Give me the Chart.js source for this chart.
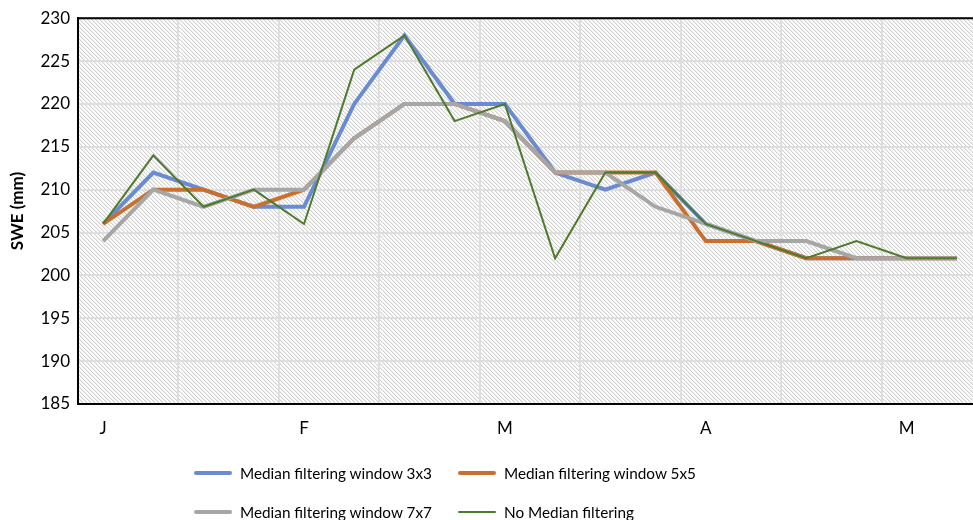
<!DOCTYPE html>
<html>
<head>
<meta charset="utf-8">
<script src="https://cdn.jsdelivr.net/npm/chart.js@4/dist/chart.umd.min.js"></script>
<style>
  html, body { margin: 0; padding: 0; background: #fff; overflow: hidden; }
  #wrap { position: relative; width: 990px; height: 520px; }
  #legend { position: absolute; left: 0; top: 0; width: 973px; height: 520px; pointer-events: none;
            font-family: Lato, "Open Sans", sans-serif; font-size: 15.3px; color: #000; }
  .item { position: absolute; display: flex; align-items: center; white-space: nowrap; }
  .swatch { display: inline-block; width: 38px; margin-right: 8px; }
</style>
</head>
<body>
<div id="wrap">
  <canvas id="c" width="990" height="520"></canvas>
  <div id="legend"></div>
</div>
<script>
// ---- data ----
const categories = ['J','','','','F','','','','M','','','','A','','','','M',''];
const seriesNames = ['Median filtering window 3x3','Median filtering window 5x5','Median filtering window 7x7','No Median filtering'];
const median3x3 = [206,212,210,208,208,220,228,220,220,212,210,212,206,204,202,202,202,202];
const median5x5 = [206,210,210,208,210,216,220,220,218,212,212,212,204,204,202,202,202,202];
const median7x7 = [204,210,208,210,210,216,220,220,218,212,212,208,206,204,204,202,202,202];
const noMedian  = [206,214,208,210,206,224,228,218,220,202,212,212,206,204,202,204,202,202];
const yTicks = { min: 185, max: 230, step: 5 };

const colors = ['#6a8bd2', '#c9702f', '#a6a6a6', '#4f7a2b'];
const widths = [4, 4, 4, 2];

// hatch pattern
function makePattern(ctx) {
  const t = document.createElement('canvas');
  t.width = 4; t.height = 4;
  const g = t.getContext('2d');
  g.fillStyle = '#ffffff'; g.fillRect(0,0,4,4);
  for (let y = 0; y < 4; y++) for (let x = 0; x < 4; x++) {
    const m = ((x - y) % 4 + 4) % 4;
    if (m === 0) { g.fillStyle = '#d2d2d2'; g.fillRect(x,y,1,1); }
    else if (m === 1) { g.fillStyle = '#ededed'; g.fillRect(x,y,1,1); }
  }
  return ctx.createPattern(t, 'repeat');
}

const bgPlugin = {
  id: 'bgHatch',
  beforeDraw(chart) {
    const {ctx, chartArea: a} = chart;
    ctx.save();
    ctx.fillStyle = makePattern(ctx);
    ctx.fillRect(a.left, a.top, a.right - a.left, a.bottom - a.top);
    ctx.restore();
  },
  afterDraw(chart) {
    const {ctx, chartArea: a} = chart;
    ctx.save();
    ctx.strokeStyle = '#000';
    ctx.lineWidth = 2;
    ctx.beginPath();
    ctx.moveTo(a.left, a.top);
    ctx.lineTo(a.right, a.top);
    ctx.stroke();
    ctx.restore();
  }
};

const data = [median3x3, median5x5, median7x7, noMedian];
const orders = [3, 2, 1, 0];

const chart = new Chart(document.getElementById('c'), {
  type: 'line',
  data: {
    labels: categories,
    datasets: data.map((d, i) => ({
      label: seriesNames[i],
      data: d,
      borderColor: colors[i],
      backgroundColor: colors[i],
      borderWidth: widths[i],
      pointRadius: 0,
      tension: 0,
      fill: false,
      order: orders[i],
      borderJoinStyle: 'miter',
      borderCapStyle: 'butt'
    }))
  },
  options: {
    responsive: false,
    animation: false,
    layout: { padding: { top: 14, left: 0, right: 8, bottom: 80 } },
    plugins: { legend: { display: false }, tooltip: { enabled: false } },
    scales: {
      x: {
        offset: true,
        afterFit(s) { s.height = 36; },
        grid: {
          offset: true,
          drawTicks: false,
          lineWidth: 2,
          color: (c) => (c.index > 0 && c.index % 2 === 0) ? '#dedede' : 'rgba(0,0,0,0)'
        },
        border: { color: '#000', width: 2 },
        ticks: {
          autoSkip: false, maxRotation: 0, padding: 14,
          color: '#000', font: { family: 'Lato, "Open Sans", sans-serif', size: 17 }
        }
      },
      y: {
        min: yTicks.min, max: yTicks.max,
        afterFit(s) { s.width = 78; },
        grid: { drawTicks: false, lineWidth: 2, color: '#dedede' },
        border: { color: '#000', width: 2 },
        ticks: {
          stepSize: yTicks.step, padding: 8,
          color: '#000', font: { family: 'Lato, "Open Sans", sans-serif', size: 17 }
        },
        title: {
          display: true, text: 'SWE (mm)', color: '#000', padding: { top: 7, bottom: 0 },
          font: { family: 'Lato, "Open Sans", sans-serif', size: 17, weight: 'bold' }
        }
      }
    }
  },
  plugins: [bgPlugin]
});

// legend (HTML) built from datasets
const legend = document.getElementById('legend');
const pos = [[194, 473], [458, 473], [194, 512], [458, 512]];
chart.data.datasets.forEach((ds, i) => {
  const it = document.createElement('div');
  it.className = 'item';
  it.style.left = pos[i][0] + 'px';
  it.style.top = (pos[i][1] - 12) + 'px';
  it.style.height = '24px';
  const sw = document.createElement('span');
  sw.className = 'swatch';
  sw.style.height = ds.borderWidth + 'px';
  sw.style.background = ds.borderColor;
  sw.style.borderRadius = '2px';
  const tx = document.createElement('span');
  tx.textContent = ds.label;
  it.appendChild(sw); it.appendChild(tx);
  legend.appendChild(it);
});
</script>
</body>
</html>
